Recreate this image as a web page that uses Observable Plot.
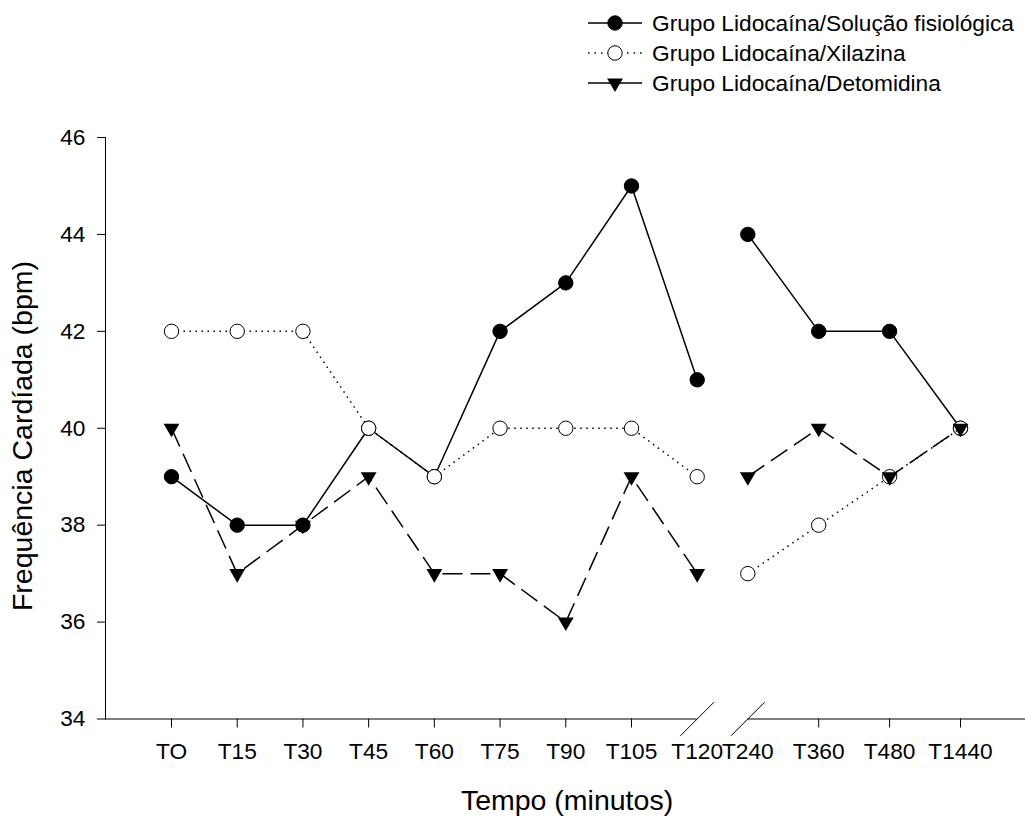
<!DOCTYPE html>
<html><head><meta charset="utf-8">
<script src="https://cdn.jsdelivr.net/npm/d3@7"></script>
<script src="https://cdn.jsdelivr.net/npm/@observablehq/plot@0.6"></script>
<style>
body{margin:0;background:#fff;font-family:"Liberation Sans",Arial,sans-serif;}
#wrap{position:relative;width:1025px;height:819px;overflow:hidden;}
#wrap svg{position:absolute;left:0;top:0;}
.lg{position:absolute;left:588px;height:30px;display:flex;align-items:center;white-space:nowrap;font-size:22.7px;color:#000;}
.lg svg{position:static !important;margin-right:10px;}
.title{position:absolute;white-space:nowrap;font-size:28.5px;color:#000;transform:translate(-50%,-50%);}
</style></head><body>
<div id="wrap"></div>
<script>
// ---- data ----
const timeLabels = ["TO","T15","T30","T45","T60","T75","T90","T105","T120","T240","T360","T480","T1440"];
const solucao    = [39,38,38,40,39,42,43,45,41,44,42,42,40];
const xilazina   = [42,42,42,40,39,40,40,40,39,37,38,39,40];
const detomidina = [40,37,38,39,37,37,36,39,37,39,40,39,40];
const seriesNames = ["Grupo Lidocaína/Solução fisiológica","Grupo Lidocaína/Xilazina","Grupo Lidocaína/Detomidina"];
const breakBefore = "T240"; // axis break between T120 and T240
const yTicks = [34,36,38,40,42,44,46];
const xTitle = "Tempo (minutos)";
const yTitle = "Frequência Cardíada (bpm)";

// ---- build table ----
const bi = timeLabels.indexOf(breakBefore);
const valueSets = [solucao, xilazina, detomidina];
const rows = [];
valueSets.forEach((vals, s) => vals.forEach((v, i) => rows.push({series: seriesNames[s], t: i, label: timeLabels[i], v, seg: i < bi ? 0 : 1})));
const idx = timeLabels.map((_, i) => i);
const tickIdx = idx.filter(i => i !== bi - 1 && i !== bi);

// symbols
const triDown = {draw(ctx, size){const r = Math.sqrt(size/Math.PI); ctx.moveTo(-r*1.1,-r*0.63); ctx.lineTo(r*1.1,-r*0.63); ctx.lineTo(0,r*1.25); ctx.closePath();}};
const slash = {draw(ctx, size){const r = Math.sqrt(size/Math.PI); ctx.moveTo(-r, r); ctx.lineTo(r, -r);}};

const styles = [
  {dash: null, dot: {symbol: "circle", fill: "black", stroke: "black"}},
  {dash: "1.5,4.5", dot: {symbol: "circle", fill: "white", stroke: "black"}},
  {dash: "20,8", dot: {symbol: triDown, fill: "black", stroke: "none"}}
];

const marks = [
  Plot.frame({anchor: "left", stroke: "black"}),
  Plot.frame({anchor: "bottom", stroke: "black"}),
  Plot.ruleY([yTicks[0]], {x1: bi - 1, x2: bi, stroke: "white", strokeWidth: 4}),
  Plot.dot([bi - 1, bi], {x: d => d, y: () => yTicks[0], symbol: slash, r: 16.8, stroke: "black", fill: "none", strokeWidth: 1}),
  Plot.axisY({ticks: yTicks, tickSize: 8, tickPadding: 12, fontSize: 22.7, label: null, stroke: "black"}),
  Plot.axisX(tickIdx, {tickSize: 9, tickFormat: () => "", label: null, stroke: "black"}),
  Plot.axisX(idx, {tickSize: 0, tickPadding: 24, tickFormat: i => timeLabels[i], fontSize: 22.7, label: null})
];
seriesNames.forEach((name, s) => {
  const d = rows.filter(r => r.series === name);
  marks.push(Plot.line(d, {x: "t", y: "v", z: "seg", stroke: "black", strokeWidth: 1.5, strokeDasharray: styles[s].dash, strokeLinecap: "butt"}));
  marks.push(Plot.dot(d, {x: "t", y: "v", r: 7.2, strokeWidth: 1, ...styles[s].dot}));
});

const chart = Plot.plot({
  width: 1025, height: 819,
  marginTop: 137, marginBottom: 100.5, marginLeft: 105, marginRight: 0,
  style: {fontFamily: "'Liberation Sans', Arial, sans-serif", color: "black", background: "white"},
  x: {type: "linear", domain: [0, bi - 1, bi, timeLabels.length - 1], range: [171, 696.7, 747.3, 960]},
  y: {domain: [yTicks[0], yTicks[yTicks.length - 1]]},
  marks
});
const wrap = document.getElementById("wrap");
wrap.appendChild(chart);

// axis titles
const xt = document.createElement("div"); xt.className = "title"; xt.textContent = xTitle;
xt.style.left = "567px"; xt.style.top = "800px"; wrap.appendChild(xt);
const yt = document.createElement("div"); yt.className = "title"; yt.textContent = yTitle;
yt.style.left = "22px"; yt.style.top = "436px"; yt.style.transform = "translate(-50%,-50%) rotate(-90deg)"; wrap.appendChild(yt);

// legend
const legendY = [23, 53, 83];
seriesNames.forEach((name, s) => {
  const row = document.createElement("div"); row.className = "lg";
  row.style.top = (legendY[s] - 15) + "px";
  const ns = "http://www.w3.org/2000/svg";
  const sv = document.createElementNS(ns, "svg"); sv.setAttribute("width", 54); sv.setAttribute("height", 30);
  const ln = document.createElementNS(ns, "line");
  ln.setAttribute("x1", 0); ln.setAttribute("x2", 54); ln.setAttribute("y1", 15); ln.setAttribute("y2", 15);
  ln.setAttribute("stroke", "black"); ln.setAttribute("stroke-width", 1.5);
  if (styles[s].dash) ln.setAttribute("stroke-dasharray", s === 1 ? "1.5,5" : "54");
  sv.appendChild(ln);
  const p = document.createElementNS(ns, "path");
  const path = d3.path();
  if (s === 2) triDown.draw(path, 7.2*7.2*Math.PI); else { path.arc(0, 0, 7.2, 0, 2*Math.PI); }
  p.setAttribute("d", path.toString()); p.setAttribute("transform", "translate(27,15)");
  p.setAttribute("fill", styles[s].dot.fill); p.setAttribute("stroke", styles[s].dot.stroke);
  sv.appendChild(p);
  row.appendChild(sv);
  const tx = document.createElement("span"); tx.textContent = name; row.appendChild(tx);
  wrap.appendChild(row);
});
</script>
</body></html>
